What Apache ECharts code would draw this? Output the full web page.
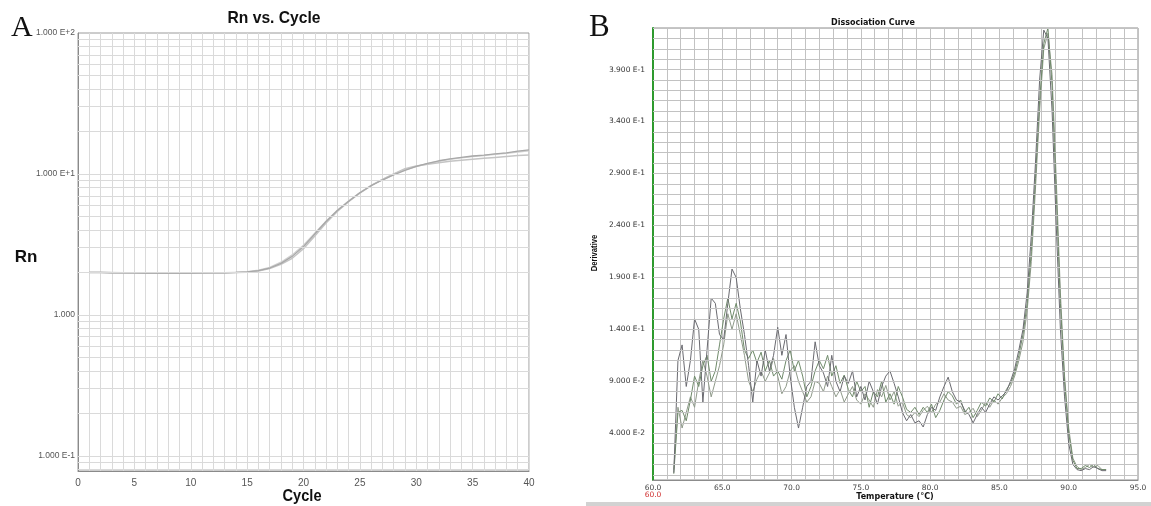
<!DOCTYPE html>
<html><head><meta charset="utf-8">
<script src="https://cdn.jsdelivr.net/npm/echarts@6/dist/echarts.min.js"></script>
<style>html,body{margin:0;padding:0;background:#fff}#c{width:1151px;height:506px}</style>
</head><body><div id="c"></div>
<script>
// ---------- Panel A: Rn vs. Cycle ----------
const cycles = [1,2,3,4,5,6,7,8,9,10,11,12,13,14,15,16,17,18,19,20,21,22,23,24,25,26,27,28,29,30,31,32,33,34,35,36,37,38,39,40];
const rnWell1 = [2.00,2.00,1.99,1.99,1.99,1.98,1.98,1.98,1.98,1.98,1.99,1.99,1.99,2.00,2.02,2.06,2.15,2.32,2.60,3.05,3.75,4.60,5.50,6.40,7.35,8.25,9.05,9.85,10.6,11.3,11.9,12.4,12.8,13.1,13.4,13.6,13.9,14.1,14.5,14.8];
const rnWell2 = [2.00,2.00,1.99,1.99,1.98,1.98,1.98,1.97,1.97,1.98,1.98,1.99,1.99,2.00,2.01,2.05,2.13,2.28,2.52,2.95,3.62,4.48,5.42,6.35,7.30,8.25,9.15,10.0,10.9,11.4,11.7,12.0,12.3,12.5,12.7,12.9,13.1,13.3,13.5,13.6];
const rnWell3 = [2.00,2.00,2.00,1.99,1.99,1.98,1.98,1.98,1.98,1.98,1.98,1.99,1.99,2.00,2.02,2.07,2.17,2.36,2.66,3.12,3.80,4.62,5.52,6.42,7.38,8.30,9.10,9.95,10.7,11.3,11.8,12.3,12.7,13.0,13.3,13.5,13.8,14.0,14.3,14.6];
const rnTickValues = [0.1, 1, 10, 100];
const rnTickLabels = ['1.000 E-1', '1.000', '1.000 E+1', '1.000 E+2'];
const cycleTickValues = [0,5,10,15,20,25,30,35,40];

// ---------- Panel B: Dissociation Curve ----------
const temps = [61.5,61.8,62.1,62.4,62.7,63.0,63.3,63.6,63.9,64.2,
64.5,64.8,65.1,65.4,65.7,66.0,66.3,66.6,66.9,67.2,
67.5,67.8,68.1,68.4,68.7,69.0,69.3,69.6,69.9,70.2,
70.5,70.8,71.1,71.4,71.7,72.0,72.3,72.6,72.9,73.2,
73.5,73.8,74.1,74.4,74.7,75.0,75.3,75.6,75.9,76.2,
76.5,76.8,77.1,77.4,77.7,78.0,78.3,78.6,78.9,79.2,
79.5,79.8,80.1,80.4,80.7,81.0,81.3,81.6,81.9,82.2,
82.5,82.8,83.1,83.4,83.7,84.0,84.3,84.6,84.9,85.2,
85.5,85.8,86.1,86.4,86.7,87.0,87.3,87.6,87.9,88.2,
88.5,88.8,89.1,89.4,89.7,90.0,90.3,90.6,90.9,91.2,
91.5,91.8,92.1,92.4,92.7];
const deriv1 = [0.002,0.110,0.125,0.085,0.110,0.150,0.140,0.070,0.120,0.170,
0.165,0.135,0.130,0.165,0.198,0.190,0.160,0.135,0.105,0.070,
0.110,0.095,0.120,0.100,0.115,0.142,0.115,0.135,0.095,0.065,
0.045,0.065,0.085,0.090,0.128,0.105,0.098,0.085,0.115,0.090,
0.080,0.095,0.088,0.100,0.075,0.085,0.072,0.090,0.080,0.068,
0.085,0.095,0.100,0.088,0.075,0.060,0.052,0.058,0.050,0.052,
0.046,0.058,0.065,0.062,0.075,0.085,0.094,0.080,0.072,0.070,
0.062,0.058,0.050,0.058,0.065,0.060,0.068,0.075,0.072,0.076,
0.080,0.090,0.102,0.120,0.140,0.175,0.230,0.300,0.380,0.428,
0.420,0.350,0.240,0.140,0.075,0.030,0.010,0.005,0.004,0.006,
0.005,0.008,0.006,0.004,0.004];
const deriv2 = [0.001,0.060,0.062,0.052,0.072,0.095,0.085,0.105,0.115,0.090,
0.100,0.125,0.150,0.170,0.150,0.165,0.148,0.120,0.112,0.120,
0.108,0.118,0.100,0.110,0.095,0.100,0.092,0.110,0.120,0.100,
0.110,0.095,0.075,0.085,0.100,0.110,0.102,0.115,0.095,0.105,
0.088,0.096,0.082,0.075,0.090,0.080,0.085,0.065,0.080,0.075,
0.090,0.070,0.078,0.068,0.085,0.075,0.063,0.060,0.065,0.058,
0.065,0.060,0.068,0.055,0.062,0.072,0.080,0.076,0.068,0.072,
0.060,0.065,0.055,0.062,0.070,0.066,0.074,0.070,0.078,0.073,
0.082,0.088,0.098,0.115,0.135,0.165,0.215,0.285,0.360,0.415,
0.430,0.375,0.270,0.165,0.090,0.040,0.014,0.006,0.006,0.009,
0.007,0.010,0.006,0.005,0.005];
const deriv3 = [0.005,0.065,0.045,0.060,0.075,0.065,0.090,0.110,0.095,0.075,
0.090,0.105,0.125,0.155,0.140,0.155,0.135,0.115,0.090,0.080,
0.092,0.100,0.090,0.098,0.112,0.095,0.078,0.085,0.100,0.105,
0.090,0.080,0.070,0.075,0.090,0.088,0.080,0.095,0.085,0.075,
0.082,0.070,0.078,0.085,0.072,0.068,0.078,0.072,0.065,0.082,
0.075,0.086,0.072,0.080,0.066,0.070,0.058,0.055,0.060,0.056,
0.062,0.066,0.060,0.068,0.070,0.078,0.072,0.070,0.064,0.066,
0.058,0.060,0.064,0.056,0.062,0.070,0.065,0.072,0.068,0.074,
0.078,0.085,0.095,0.110,0.128,0.158,0.205,0.275,0.350,0.410,
0.425,0.385,0.285,0.175,0.095,0.045,0.016,0.008,0.005,0.007,
0.010,0.007,0.009,0.005,0.005];
const derivTickValues = [0.04,0.09,0.14,0.19,0.24,0.29,0.34,0.39];
const derivTickLabels = ['4.000 E-2','9.000 E-2','1.400 E-1','1.900 E-1','2.400 E-1','2.900 E-1','3.400 E-1','3.900 E-1'];
const tempTickValues = [60,65,70,75,80,85,90,95];

// ---------- build ----------
const chart = echarts.init(document.getElementById('c'), null, {renderer:'canvas'});
const sans = "'Liberation Sans',Arial,sans-serif";
const dv = "'DejaVu Sans',Verdana,sans-serif";

// minor log grid lines (1..9 per decade) for panel A
const logGrid = [];
[0.01,0.1,1,10].forEach(d=>{ for(let m=1;m<=9;m++){ const v=+(m*d).toPrecision(3); if(v>=0.078 && v<100) logGrid.push(v);} });
// horizontal grid for panel B, every 0.01
const derivGrid = [];
for(let k=0;k<=43;k++) derivGrid.push(+(k*0.01).toFixed(2));

function near(v, arr){ for(let i=0;i<arr.length;i++){ if(Math.abs(v-arr[i])<1e-6*Math.max(1,Math.abs(arr[i]))) return i; } return -1; }
const pair = (xs, ys) => xs.map((x,i)=>[x, ys[i]]);

const option = {
  animation:false,
  backgroundColor:'#fff',
  grid:[
    {left:78, top:33, width:451, height:438, show:true, borderColor:'#9a9a9a', borderWidth:1, backgroundColor:'#fff', outerBoundsMode:'none', containLabel:false},
    {left:653, top:28, width:485, height:452, show:true, borderColor:'#8c8c8c', borderWidth:1, backgroundColor:'#fff', outerBoundsMode:'none', containLabel:false}
  ],
  xAxis:[
    {gridIndex:0, type:'value', min:0, max:40, interval:1,
     axisLine:{onZero:false, lineStyle:{color:'#8a8a8a'}}, axisTick:{show:false},
     axisLabel:{fontFamily:sans, fontSize:10, color:'#555', margin:7,
       formatter:v=> near(v,cycleTickValues)>=0 ? String(v) : ''},
     splitLine:{show:true, lineStyle:{color:'#dadada', width:1}}},
    {gridIndex:1, type:'value', min:60, max:95, interval:1,
     axisLine:{onZero:false, lineStyle:{color:'#8c8c8c'}}, axisTick:{show:false},
     axisLabel:{fontFamily:dv, fontSize:7.5, color:'#444', margin:5, lineHeight:7,
       formatter:v=>{ const i=near(v,tempTickValues); if(i<0) return ''; const s=v.toFixed(1); return i===0 ? s+'\n{r|'+s+'}' : s; },
       rich:{r:{color:'#d03030', fontFamily:dv, fontSize:7.5, lineHeight:7}}},
     splitLine:{show:true, lineStyle:{color:'#c2c2c2', width:1}}}
  ],
  yAxis:[
    {gridIndex:0, type:'log', logBase:10, min:0.078, max:100,
     axisLine:{show:true, onZero:false, lineStyle:{color:'#8a8a8a'}}, axisTick:{show:false},
     axisLabel:{fontFamily:sans, fontSize:8.5, color:'#555', margin:3,
       formatter:v=>{ const i=near(v,rnTickValues); return i>=0 ? rnTickLabels[i] : ''; }},
     splitLine:{show:false}},
    {gridIndex:1, type:'value', min:-0.005, max:0.43, interval:0.005,
     axisLine:{show:true, onZero:false, lineStyle:{color:'#2e9a2e', width:2}}, axisTick:{show:false},
     axisLabel:{fontFamily:dv, fontSize:7.5, color:'#333', margin:8,
       formatter:v=>{ const i=near(v,derivTickValues); return i>=0 ? derivTickLabels[i] : ''; }},
     splitLine:{show:false}}
  ],
  graphic:[
    {type:'text', x:11, y:13, style:{text:'A', font:"30px 'Liberation Serif','DejaVu Serif',serif", fill:'#111'}},
    {type:'text', x:589, y:12, style:{text:'B', font:"31px 'Liberation Serif','DejaVu Serif',serif", fill:'#111'}},
    {type:'text', x:274, y:18, scaleX:0.92, style:{text:'Rn vs. Cycle', font:"bold 17px "+sans, fill:'#111', textAlign:'center', textVerticalAlign:'middle'}},
    {type:'text', x:26, y:257, style:{text:'Rn', font:"bold 17px "+sans, fill:'#111', textAlign:'center', textVerticalAlign:'middle'}},
    {type:'text', x:302, y:496, scaleX:0.86, style:{text:'Cycle', font:"bold 17px "+sans, fill:'#111', textAlign:'center', textVerticalAlign:'middle'}},
    {type:'text', x:873, y:23, style:{text:'Dissociation Curve', font:"bold 8px "+dv, fill:'#111', textAlign:'center', textVerticalAlign:'middle'}},
    {type:'text', x:895, y:497, style:{text:'Temperature (°C)', font:"bold 8px "+dv, fill:'#111', textAlign:'center', textVerticalAlign:'middle'}},
    {type:'text', x:595, y:253, rotation:Math.PI/2, scaleX:0.85, style:{text:'Derivative', font:"bold 9px "+sans, fill:'#111', textAlign:'center', textVerticalAlign:'middle'}},
    {type:'rect', shape:{x:586, y:502, width:565, height:4}, style:{fill:'#d2d2d2'}}
  ],
  series:[
    {type:'line', xAxisIndex:0, yAxisIndex:0, data:[], silent:true, z:1,
     markLine:{silent:true, symbol:['none','none'], label:{show:false}, animation:false,
       lineStyle:{color:'#dadada', width:1, type:'solid'},
       data: logGrid.map(v=>({yAxis:v}))}},
    {type:'line', xAxisIndex:1, yAxisIndex:1, data:[], silent:true, z:1,
     markLine:{silent:true, symbol:['none','none'], label:{show:false}, animation:false,
       lineStyle:{color:'#c2c2c2', width:1, type:'solid'},
       data: derivGrid.map(v=>({yAxis:v}))}},
    {type:'line', xAxisIndex:0, yAxisIndex:0, data:pair(cycles,rnWell3), showSymbol:false, z:3, lineStyle:{color:'#d0d0d0', width:1.5}},
    {type:'line', xAxisIndex:0, yAxisIndex:0, data:pair(cycles,rnWell2), showSymbol:false, z:3, lineStyle:{color:'#c4c4c4', width:1.5}},
    {type:'line', xAxisIndex:0, yAxisIndex:0, data:pair(cycles,rnWell1), showSymbol:false, z:3, lineStyle:{color:'#a8a8a8', width:1.3}},
    {type:'line', xAxisIndex:1, yAxisIndex:1, data:pair(temps,deriv3), showSymbol:false, z:3, lineStyle:{color:'#8f9a8a', width:1}},
    {type:'line', xAxisIndex:1, yAxisIndex:1, data:pair(temps,deriv2), showSymbol:false, z:3, lineStyle:{color:'#6f8a6a', width:1}},
    {type:'line', xAxisIndex:1, yAxisIndex:1, data:pair(temps,deriv1), showSymbol:false, z:3, lineStyle:{color:'#6a6a70', width:1}}
  ]
};
chart.setOption(option);
</script>
</body></html>
